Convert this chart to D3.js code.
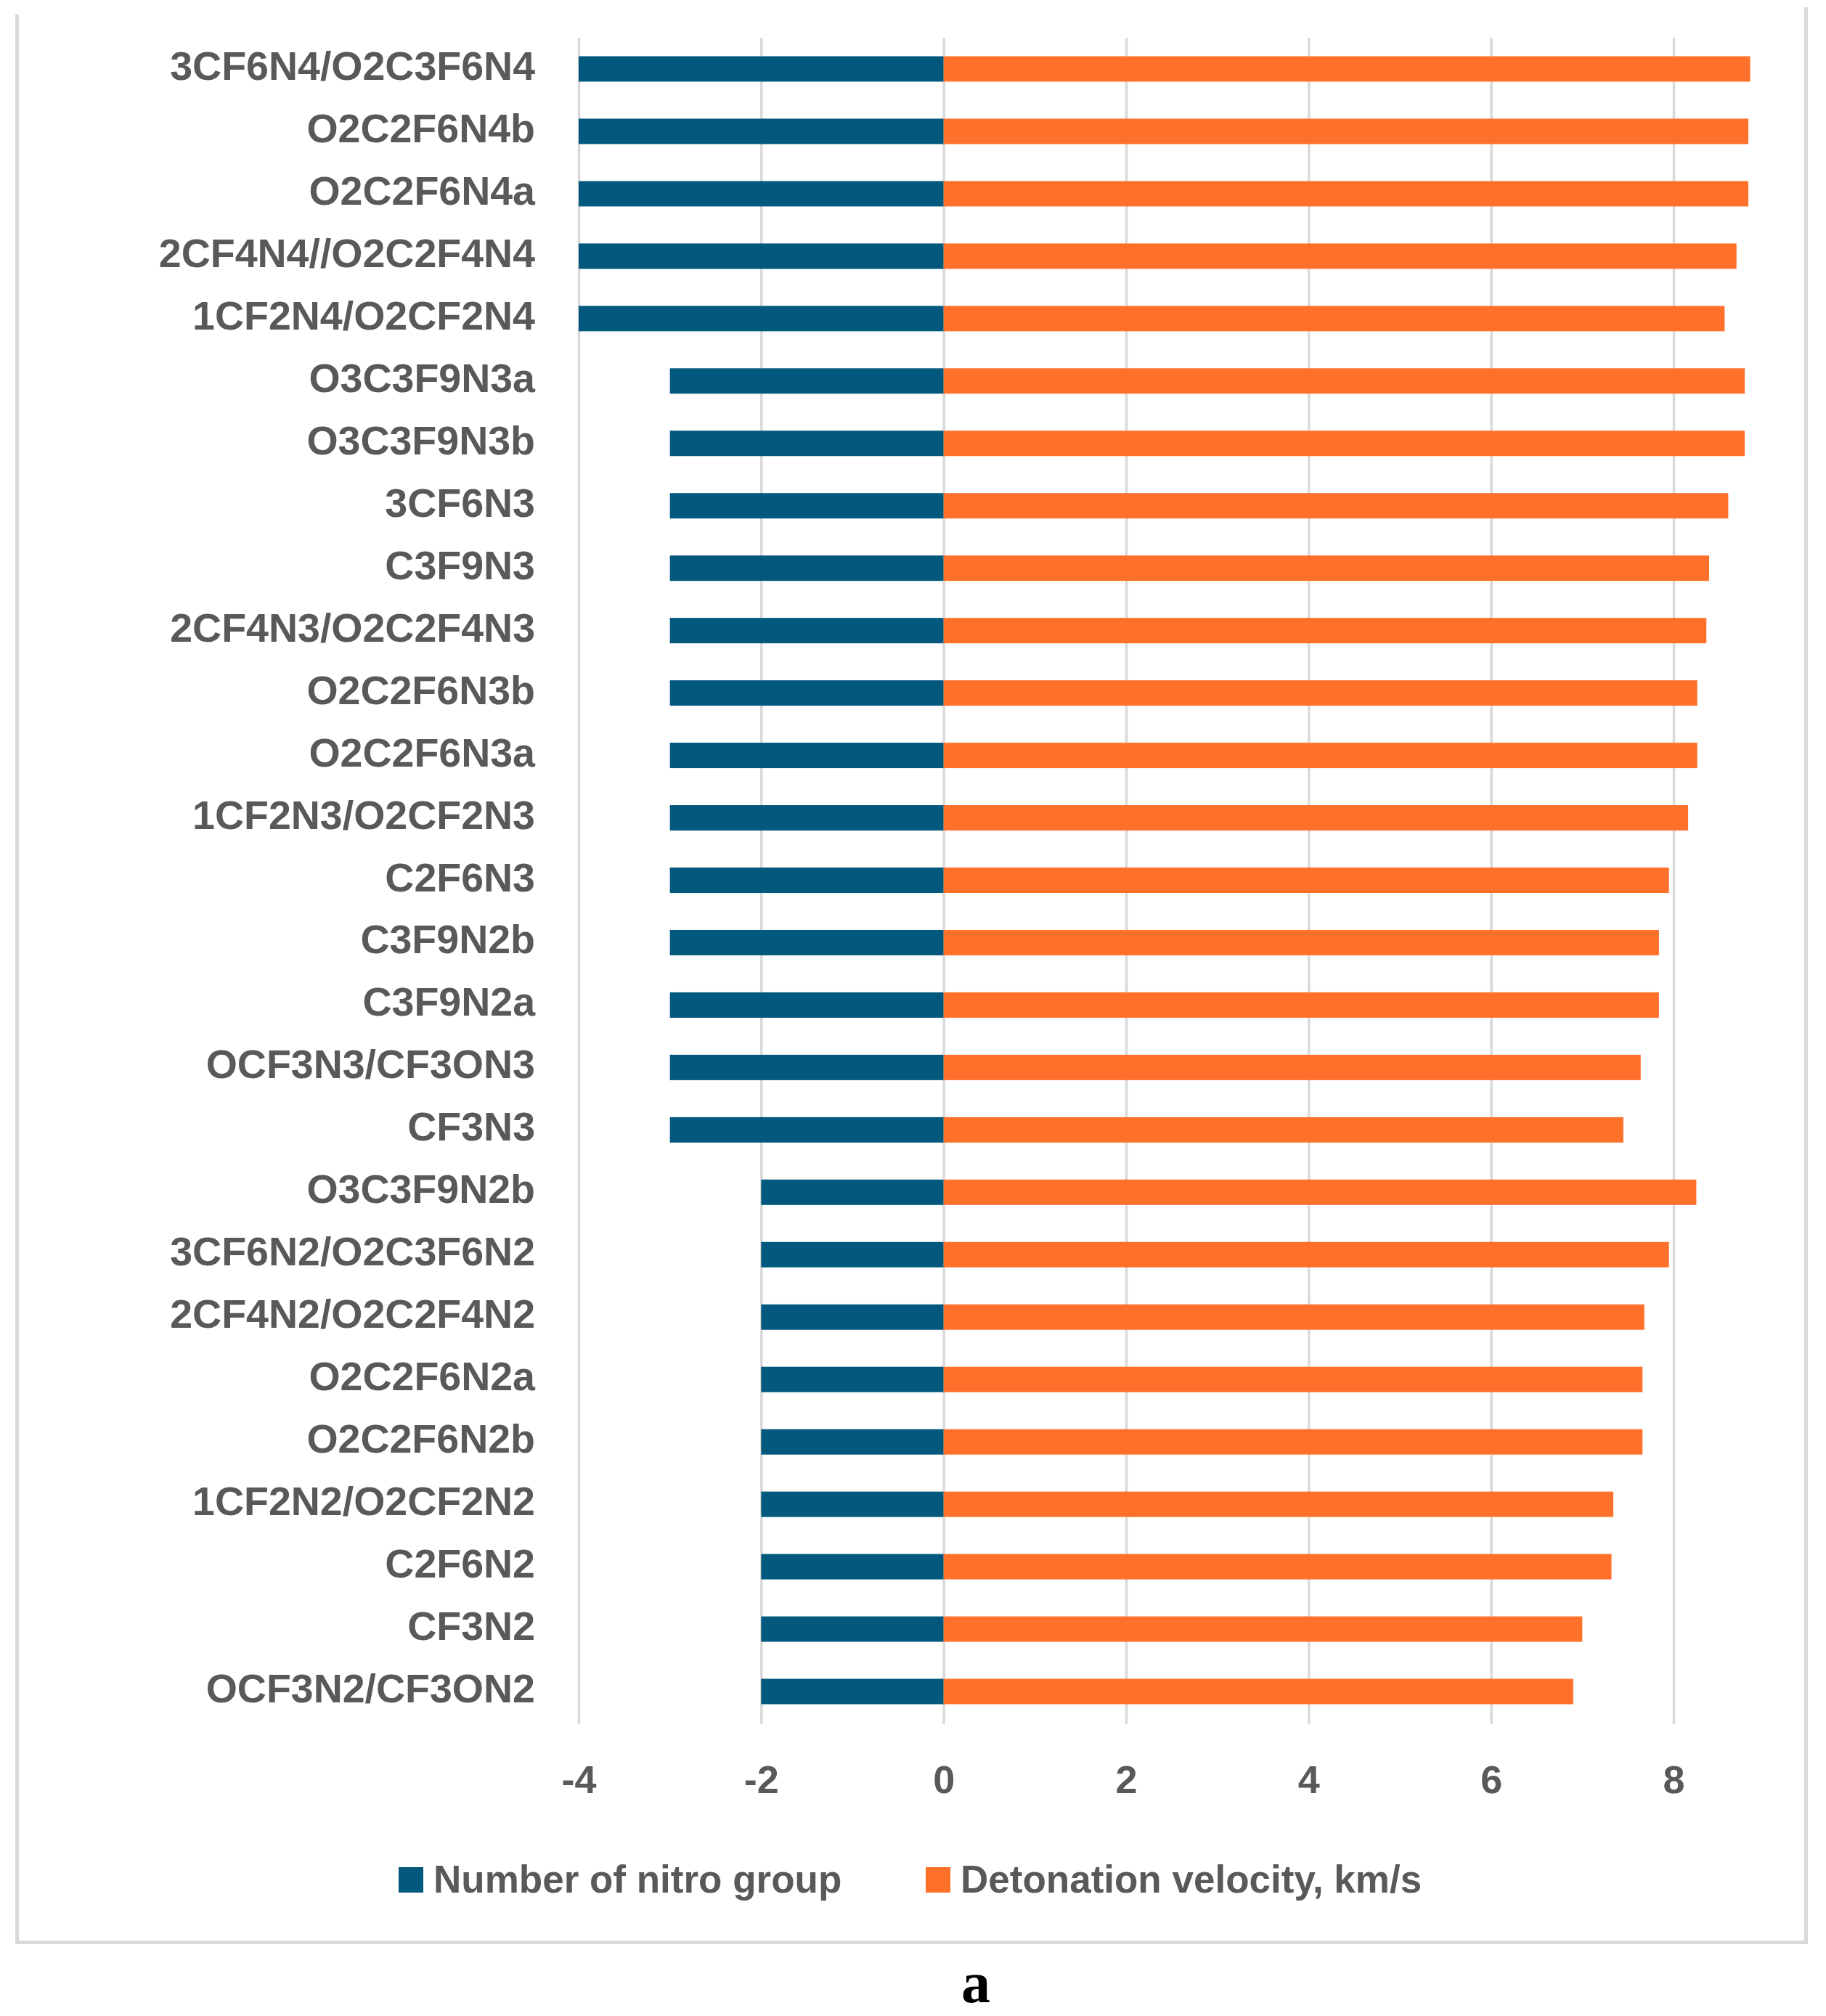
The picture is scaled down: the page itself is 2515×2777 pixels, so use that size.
<!DOCTYPE html>
<html>
<head>
<meta charset="utf-8">
<script src="https://cdn.jsdelivr.net/npm/d3@7"></script>
<style>
  html, body { margin: 0; padding: 0; background: #fff; }
  svg { display: block; }
  .tick text { font-family: "Liberation Sans", Arial, sans-serif; font-weight: bold; fill: #595959; }
</style>
</head>
<body>
<script>
const compounds = [
  "3CF6N4/O2C3F6N4", "O2C2F6N4b", "O2C2F6N4a", "2CF4N4//O2C2F4N4", "1CF2N4/O2CF2N4",
  "O3C3F9N3a", "O3C3F9N3b", "3CF6N3", "C3F9N3", "2CF4N3/O2C2F4N3",
  "O2C2F6N3b", "O2C2F6N3a", "1CF2N3/O2CF2N3", "C2F6N3", "C3F9N2b",
  "C3F9N2a", "OCF3N3/CF3ON3", "CF3N3", "O3C3F9N2b", "3CF6N2/O2C3F6N2",
  "2CF4N2/O2C2F4N2", "O2C2F6N2a", "O2C2F6N2b", "1CF2N2/O2CF2N2", "C2F6N2",
  "CF3N2", "OCF3N2/CF3ON2"
];
const nitroGroups = [
  -4, -4, -4, -4, -4,
  -3, -3, -3, -3, -3,
  -3, -3, -3, -3, -3,
  -3, -3, -3, -2, -2,
  -2, -2, -2, -2, -2,
  -2, -2
];
const detonationVelocity = [
  8.84, 8.82, 8.82, 8.69, 8.56,
  8.78, 8.78, 8.60, 8.39, 8.36,
  8.26, 8.26, 8.16, 7.95, 7.84,
  7.84, 7.64, 7.45, 8.25, 7.95,
  7.68, 7.66, 7.66, 7.34, 7.32,
  7.00, 6.90
];
const xTicks = [-4, -2, 0, 2, 4, 6, 8];
const seriesNames = ["Number of nitro group", "Detonation velocity, km/s"];
const seriesColors = ["#03587e", "#ff712b"];
const caption = "a";

const W = 2515, H = 2777;
const FONT = "'Liberation Sans', Arial, sans-serif";

const svg = d3.select("body").append("svg")
  .attr("width", W)
  .attr("height", H);

// chart frame (left, right, bottom edges only)
svg.append("path")
  .attr("d", "M23.5,20V2675.5H2487.5V10")
  .attr("stroke", "#d9d9d9")
  .attr("stroke-width", 5)
  .attr("fill", "none");

const x = d3.scaleLinear().domain([-4, 8]).range([797, 2305]);
const y = d3.scaleBand()
  .domain(compounds)
  .range([52, 2373])
  .paddingInner(0.593)
  .paddingOuter(0.2965);

// vertical gridlines
svg.append("g")
  .attr("transform", "translate(0,52)")
  .call(d3.axisBottom(x).tickValues(xTicks).tickSize(2323).tickFormat(""))
  .call(g => g.select(".domain").remove())
  .call(g => g.selectAll(".tick line").attr("stroke", "#d9d9d9").attr("stroke-width", 3.5));

// x tick labels
svg.append("g")
  .attr("transform", "translate(0,2470)")
  .call(d3.axisBottom(x).tickValues(xTicks).tickSize(0).tickPadding(0).tickFormat(d3.format("d")))
  .call(g => g.select(".domain").remove())
  .call(g => g.selectAll(".tick text")
    .attr("y", 0).attr("dy", 0)
    .attr("font-size", 54)
    .text(d => String(d)));

// bars
const rows = compounds.map((c, i) => ({ c, n: nitroGroups[i], v: detonationVelocity[i] }));

svg.append("g").selectAll("rect")
  .data(rows)
  .join("rect")
  .attr("x", d => x(d.n))
  .attr("y", d => y(d.c))
  .attr("width", d => x(0) - x(d.n))
  .attr("height", y.bandwidth())
  .attr("fill", seriesColors[0]);

svg.append("g").selectAll("rect")
  .data(rows)
  .join("rect")
  .attr("x", x(0))
  .attr("y", d => y(d.c))
  .attr("width", d => x(d.v) - x(0))
  .attr("height", y.bandwidth())
  .attr("fill", seriesColors[1]);

// category labels
svg.append("g")
  .attr("transform", "translate(797,0)")
  .call(d3.axisLeft(y).tickSize(0).tickPadding(60))
  .call(g => g.select(".domain").remove())
  .call(g => g.selectAll(".tick text")
    .attr("font-size", 55.5)
    .attr("dy", 0)
    .attr("y", 15));

// legend
const legendItems = [
  { name: seriesNames[0], color: seriesColors[0], x: 549 },
  { name: seriesNames[1], color: seriesColors[1], x: 1275 }
];
const legend = svg.append("g").selectAll("g")
  .data(legendItems)
  .join("g")
  .attr("transform", d => `translate(${d.x},2607)`);
legend.append("rect")
  .attr("x", 0).attr("y", -35)
  .attr("width", 34).attr("height", 35)
  .attr("fill", d => d.color);
legend.append("text")
  .attr("x", 48).attr("y", 0)
  .attr("font-family", FONT)
  .attr("font-weight", "bold")
  .attr("font-size", 53)
  .attr("fill", "#595959")
  .text(d => d.name);

// panel caption
svg.append("text")
  .attr("x", 1344).attr("y", 2758)
  .attr("text-anchor", "middle")
  .attr("font-family", "'Liberation Serif', 'Times New Roman', serif")
  .attr("font-weight", "bold")
  .attr("font-size", 80)
  .attr("fill", "#000")
  .text(caption);
</script>
</body>
</html>
